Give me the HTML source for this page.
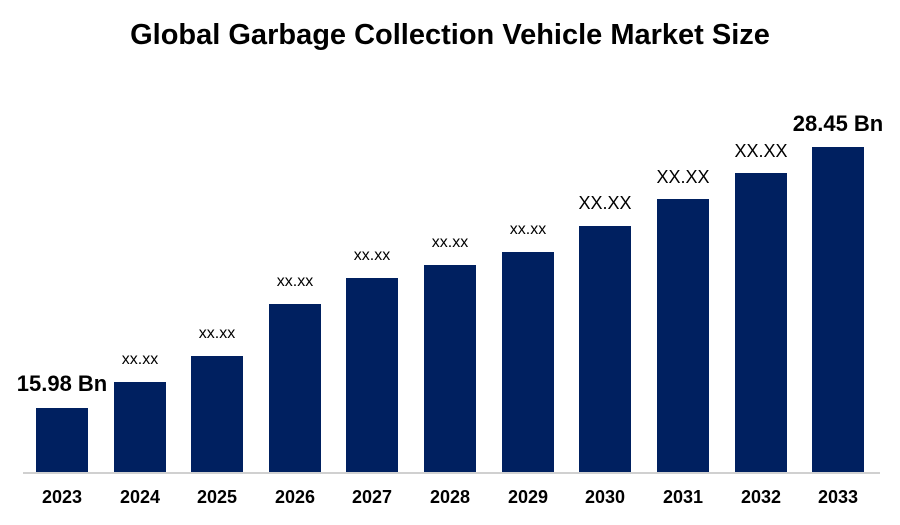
<!DOCTYPE html>
<html><head><meta charset="utf-8"><style>
body{margin:0;width:900px;height:525px;background:#fff;position:relative;overflow:hidden;font-family:"Liberation Sans",Arial,sans-serif}
.t{position:absolute;left:0;width:900px;top:19px;text-align:center;font-weight:bold;font-size:29px;color:#000}
.b{position:absolute;background:#002060;width:52px}
.l{position:absolute;width:120px;text-align:center;color:#000;white-space:nowrap}
.y{position:absolute;width:80px;text-align:center;font-weight:bold;font-size:18px;top:487px}
.ax{position:absolute;left:23px;width:857px;top:472px;height:2px;background:#d0d0d0}
</style></head><body>
<div class="t">Global Garbage Collection Vehicle Market Size</div>
<div class="ax"></div>
<div class="b" style="left:36px;top:408px;height:64px"></div>
<div class="b" style="left:114px;top:382px;height:90px"></div>
<div class="b" style="left:191px;top:356px;height:116px"></div>
<div class="b" style="left:269px;top:304px;height:168px"></div>
<div class="b" style="left:346px;top:278px;height:194px"></div>
<div class="b" style="left:424px;top:265px;height:207px"></div>
<div class="b" style="left:502px;top:252px;height:220px"></div>
<div class="b" style="left:579px;top:226px;height:246px"></div>
<div class="b" style="left:657px;top:199px;height:273px"></div>
<div class="b" style="left:735px;top:173px;height:299px"></div>
<div class="b" style="left:812px;top:147px;height:325px"></div>
<div class="l" style="left:2px;top:371px;font-size:22px;font-weight:bold">15.98 Bn</div>
<div class="l" style="left:80px;top:351px;font-size:16px">xx.xx</div>
<div class="l" style="left:157px;top:325px;font-size:16px">xx.xx</div>
<div class="l" style="left:235px;top:273px;font-size:16px">xx.xx</div>
<div class="l" style="left:312px;top:247px;font-size:16px">xx.xx</div>
<div class="l" style="left:390px;top:234px;font-size:16px">xx.xx</div>
<div class="l" style="left:468px;top:221px;font-size:16px">xx.xx</div>
<div class="l" style="left:545px;top:193px;font-size:18px">XX.XX</div>
<div class="l" style="left:623px;top:167px;font-size:18px">XX.XX</div>
<div class="l" style="left:701px;top:141px;font-size:18px">XX.XX</div>
<div class="l" style="left:778px;top:111px;font-size:22px;font-weight:bold">28.45 Bn</div>
<div class="y" style="left:22px">2023</div>
<div class="y" style="left:100px">2024</div>
<div class="y" style="left:177px">2025</div>
<div class="y" style="left:255px">2026</div>
<div class="y" style="left:332px">2027</div>
<div class="y" style="left:410px">2028</div>
<div class="y" style="left:488px">2029</div>
<div class="y" style="left:565px">2030</div>
<div class="y" style="left:643px">2031</div>
<div class="y" style="left:721px">2032</div>
<div class="y" style="left:798px">2033</div>
</body></html>
